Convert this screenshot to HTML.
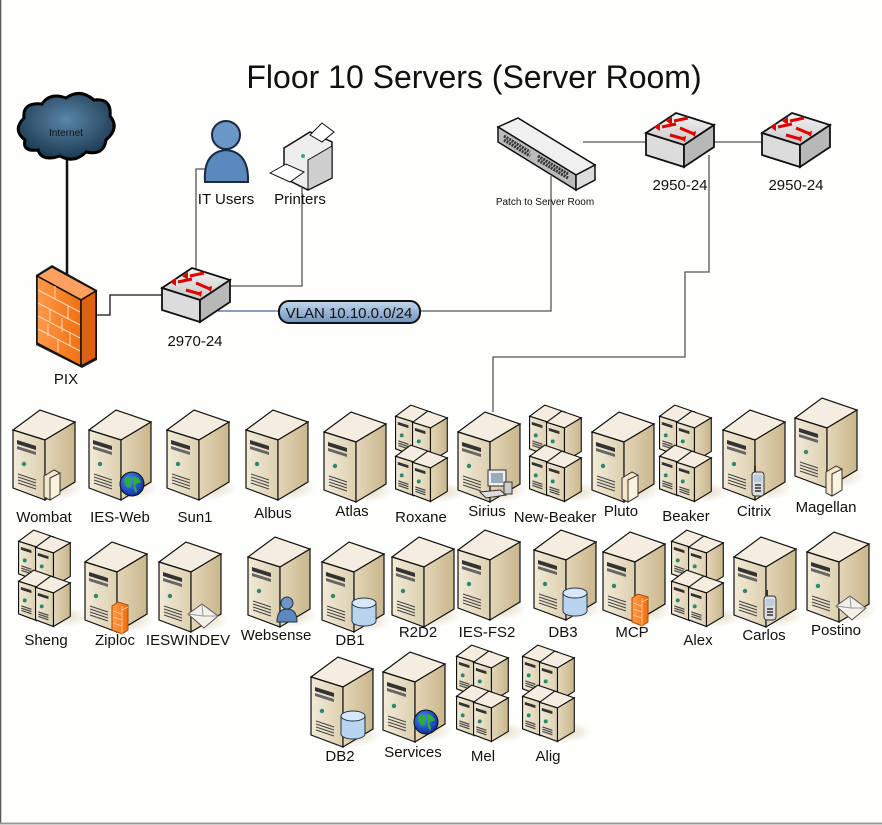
<!DOCTYPE html>
<html><head><meta charset="utf-8"><style>
html,body{margin:0;padding:0;background:#fff}
svg{display:block}
text{font-family:"Liberation Sans",Arial,sans-serif;fill:#111}
</style></head><body>
<svg width="882" height="825" viewBox="0 0 882 825" xmlns="http://www.w3.org/2000/svg">
<defs>
<linearGradient id="gside" x1="0" y1="0" x2="1" y2="0"><stop offset="0" stop-color="#e3d6b8"/><stop offset="1" stop-color="#c9b68c"/></linearGradient>
<linearGradient id="gfront" x1="0" y1="0" x2="1" y2="0"><stop offset="0" stop-color="#f2ead8"/><stop offset="1" stop-color="#ddd0b0"/></linearGradient>
<linearGradient id="gsw" x1="0" y1="0" x2="0" y2="1"><stop offset="0" stop-color="#f4f4f4"/><stop offset="1" stop-color="#c8c8c8"/></linearGradient>
<linearGradient id="gpill" x1="0" y1="0" x2="0" y2="1"><stop offset="0" stop-color="#c4d8ee"/><stop offset="1" stop-color="#6f93bd"/></linearGradient>
<linearGradient id="gfw" x1="0" y1="0" x2="1" y2="0"><stop offset="0" stop-color="#ff9a4a"/><stop offset="1" stop-color="#f07010"/></linearGradient>
<radialGradient id="gcloud" cx="0.5" cy="0.4" r="0.6"><stop offset="0" stop-color="#5a86a8"/><stop offset="1" stop-color="#1c3850"/></radialGradient>
<radialGradient id="gglobe" cx="0.4" cy="0.35" r="0.7"><stop offset="0" stop-color="#4a8cff"/><stop offset="1" stop-color="#0a2a9a"/></radialGradient>
<radialGradient id="gshadow" cx="0.5" cy="0.5" r="0.5"><stop offset="0" stop-color="#d8ccac" stop-opacity="0.8"/><stop offset="1" stop-color="#d8ccac" stop-opacity="0"/></radialGradient>

<g id="srv">
 <ellipse cx="44" cy="80" rx="26" ry="12" fill="url(#gshadow)"/>
 <polygon points="1,22 28,2 63,14 33,32" fill="#f5eee0" stroke="#111" stroke-width="1.2"/>
 <polygon points="1,22 33,32 33,92 1,80" fill="url(#gfront)" stroke="#111" stroke-width="1.2"/>
 <polygon points="33,32 63,14 63,74 33,92" fill="url(#gside)" stroke="#111" stroke-width="1.2"/>
 <polygon points="5,32 24,38 24,42 5,36" fill="#333"/>
 <polygon points="5,38 24,44 24,47 5,41" fill="#666"/>
 <circle cx="12" cy="56" r="2.2" fill="#2a8a6a"/>
 <path d="M6,66 L24,72 M6,69 L24,75 M6,72 L24,78 M6,75 L24,81" stroke="#444" stroke-width="1"/>
</g>
<g id="mini" transform="scale(0.56)">
 <polygon points="1,22 28,2 63,14 33,32" fill="#f5eee0" stroke="#111" stroke-width="2"/>
 <polygon points="1,22 33,32 33,92 1,80" fill="url(#gfront)" stroke="#111" stroke-width="2"/>
 <polygon points="33,32 63,14 63,74 33,92" fill="url(#gside)" stroke="#111" stroke-width="2"/>
 <polygon points="5,32 24,38 24,43 5,37" fill="#333"/>
 <circle cx="12" cy="56" r="3.5" fill="#2a8a6a"/>
 <path d="M6,66 L24,72 M6,70 L24,76 M6,74 L24,80" stroke="#444" stroke-width="2"/>
</g>
<g id="srv2">
 <ellipse cx="44" cy="88" rx="26" ry="10" fill="url(#gshadow)"/>
 <use href="#mini" x="0" y="0"/>
 <use href="#mini" x="17" y="6"/>
 <use href="#mini" x="0" y="40"/>
 <use href="#mini" x="17" y="46"/>
</g>
<g id="folder">
 <polygon points="0,6 10,0 16,3 16,24 6,30 0,27" fill="#f4e6c8" stroke="#333" stroke-width="1"/>
 <polygon points="6,8 16,3 16,24 6,30" fill="#fbf1dc" stroke="#333" stroke-width="1"/>
</g>
<g id="globe">
 <circle cx="12" cy="12" r="12" fill="url(#gglobe)" stroke="#111"/>
 <path d="M5,6 Q10,3 12,8 Q9,11 11,15 Q7,17 6,13 Q3,10 5,6Z M14,4 Q20,6 21,11 Q17,10 15,14 Q18,18 16,21 Q13,17 14,12 Q12,8 14,4Z" fill="#2fb02f"/>
</g>
<g id="cyl">
 <path d="M0,5 L0,23 A12,5 0 0 0 24,23 L24,5" fill="#b8d4ee" stroke="#234" stroke-width="1"/>
 <ellipse cx="12" cy="5" rx="12" ry="5" fill="#d8e8f8" stroke="#234" stroke-width="1"/>
</g>
<g id="fwb">
 <polygon points="0,4 6,0 16,3 16,28 10,32 0,28" fill="url(#gfw)" stroke="#b04a00" stroke-width="1"/>
 <path d="M1,9 L10,12 M1,15 L10,18 M1,21 L10,24 M10,8 L16,5 M10,32 L10,4" stroke="#ffd0a0" stroke-width="0.8"/>
</g>
<g id="env">
 <polygon points="0,10 14,0 30,12 16,24" fill="#f4f1ea" stroke="#555" stroke-width="1"/>
 <path d="M0,10 L15,12 L30,12 M14,0 L15,12" stroke="#999" fill="none"/>
</g>
<g id="phone">
 <rect x="0" y="6" width="12" height="24" rx="3" fill="#ddd" stroke="#333"/>
 <rect x="2" y="9" width="8" height="7" fill="#bcd"/>
 <path d="M3,19h6M3,22h6M3,25h6" stroke="#333" stroke-width="1.5"/>
 <line x1="3" y1="6" x2="3" y2="0" stroke="#333" stroke-width="2"/>
</g>
<g id="usr">
 <circle cx="10" cy="7" r="6" fill="#6a96c8" stroke="#234"/>
 <path d="M0,26 Q0,13 10,13 Q20,13 20,26Z" fill="#5b88bd" stroke="#234"/>
</g>
<g id="pc">
 <rect x="8" y="0" width="18" height="16" fill="#eee" stroke="#333"/>
 <rect x="11" y="3" width="12" height="10" fill="#9ab"/>
 <polygon points="0,22 20,20 26,25 6,28" fill="#ddd" stroke="#333"/>
 <rect x="24" y="12" width="8" height="12" fill="#ccc" stroke="#333"/>
</g>
<g id="sw">
 <polygon points="2,22 32,2 70,14 40,34" fill="url(#gsw)" stroke="#111" stroke-width="1.8"/>
 <polygon points="2,22 40,34 40,56 2,44" fill="#dcdcdc" stroke="#111" stroke-width="1.8"/>
 <polygon points="40,34 70,14 70,36 40,56" fill="#b8b8b8" stroke="#111" stroke-width="1.8"/>
 <path d="M30,10 L44,7 M18,16 L32,13 M36,17 L50,23 M26,24 L40,28" stroke="#e00000" stroke-width="3"/>
 <path d="M28,6 l-6,4 6,4z M16,12 l-6,4 6,4z M52,20 l-1,6 -5,-4z M42,25 l-1,6 -5,-4z" fill="#e00000"/>
</g>
</defs>

<rect x="0" y="0" width="882" height="825" fill="#fefefc"/>
<line x1="0.5" y1="0" x2="0.5" y2="823" stroke="#555" stroke-width="1.5"/>
<line x1="0" y1="823.5" x2="882" y2="823.5" stroke="#999" stroke-width="2"/>

<text x="474" y="88" font-size="32" text-anchor="middle">Floor 10 Servers (Server Room)</text>

<g fill="none" stroke="#555" stroke-width="1.3">
 <path d="M67,160 L67,275" stroke="#111" stroke-width="2.5"/>
 <path d="M97,315 L110,315 L110,295 L162,295" stroke="#111"/>
 <path d="M196,270 L196,169 L207,169"/>
 <path d="M230,286 L302,286 L302,188"/>
 <path d="M218,311 L280,311" stroke="#4a5fa8"/>
 <path d="M420,311 L551,311 L551,176"/>
 <path d="M583,142 L645,142"/>
 <path d="M712,142 L762,142"/>
 <path d="M709,155 L709,272 L685,272 L685,357 L493,357 L493,412"/>
</g>

<path d="M25,140 Q12,130 24,118 Q22,102 42,104 Q50,92 66,98 Q80,88 94,100 Q112,98 110,116 Q120,128 106,140 Q104,156 86,152 Q74,164 60,156 Q42,162 38,150 Q22,152 25,140Z" fill="url(#gcloud)" stroke="#000" stroke-width="3"/>
<text x="66" y="136" font-size="10" text-anchor="middle" fill="#111">Internet</text>

<polygon points="36,275 52,265 97,290 97,360 82,368 36,345" fill="#222"/>
<polygon points="37,276 52,267 96,291 81,300" fill="#ffa060" stroke="#111" stroke-width="1.5"/>
<polygon points="37,276 81,300 81,366 37,343" fill="url(#gfw)" stroke="#111" stroke-width="1.5"/>
<polygon points="81,300 96,291 96,358 81,366" fill="#e06010" stroke="#111" stroke-width="1.5"/>
<path d="M38,290 L80,312 M38,303 L80,325 M38,316 L80,338 M38,329 L80,351 M55,286 L55,298 M68,306 L68,319 M50,309 L50,321 M62,318 L62,332 M48,324 L48,336 M70,333 L70,346 M58,340 L58,352" stroke="#ffd8b8" stroke-width="1"/>
<text x="66" y="384" font-size="15" text-anchor="middle">PIX</text>

<use href="#sw" x="160" y="266"/>
<text x="195" y="346" font-size="15" text-anchor="middle">2970-24</text>

<circle cx="226" cy="135" r="14" fill="#6a96c8" stroke="#1a2a44" stroke-width="2"/>
<path d="M205,182 Q203,152 226,150 Q249,152 248,182Z" fill="#5b88bd" stroke="#1a2a44" stroke-width="2"/>
<text x="226" y="204" font-size="15" text-anchor="middle">IT Users</text>

<polygon points="284,148 310,132 332,142 332,178 308,190 284,178" fill="#eee" stroke="#111" stroke-width="1.5"/>
<polygon points="308,160 332,146 332,178 308,190" fill="#cfcfcf" stroke="#111"/>
<polygon points="310,135 322,123 334,132 322,142" fill="#fff" stroke="#111"/>
<polygon points="270,173 286,164 304,172 290,182" fill="#fff" stroke="#111"/>
<circle cx="303" cy="156" r="2" fill="#3a8"/>
<text x="300" y="204" font-size="15" text-anchor="middle">Printers</text>

<rect x="279" y="301" width="141" height="22" rx="10" fill="url(#gpill)" stroke="#111" stroke-width="2"/>
<text x="349" y="318" font-size="15" text-anchor="middle">VLAN 10.10.0.0/24</text>

<polygon points="498,127 518,118 595,165 576,175" fill="#f0f0f0" stroke="#111" stroke-width="1.5"/>
<polygon points="498,127 576,175 576,190 498,142" fill="#bbb" stroke="#111" stroke-width="1.5"/>
<polygon points="576,175 595,165 595,180 576,190" fill="#ddd" stroke="#111" stroke-width="1.5"/>
<path d="M504,136 L530,152 M504,140 L530,156 M538,156 L568,174 M538,160 L568,178" stroke="#333" stroke-width="3" stroke-dasharray="2,1"/>
<text x="545" y="205" font-size="10" text-anchor="middle">Patch to Server Room</text>

<use href="#sw" x="644" y="111"/>
<text x="680" y="190" font-size="15" text-anchor="middle">2950-24</text>
<use href="#sw" x="760" y="111"/>
<text x="796" y="190" font-size="15" text-anchor="middle">2950-24</text>

<use href="#srv" x="12" y="408"/><use href="#folder" x="44" y="470"/>
<text x="44" y="522" font-size="15" text-anchor="middle">Wombat</text>
<use href="#srv" x="88" y="408"/><use href="#globe" x="120" y="472"/>
<text x="120" y="522" font-size="15" text-anchor="middle">IES-Web</text>
<use href="#srv" x="166" y="408"/>
<text x="195" y="522" font-size="15" text-anchor="middle">Sun1</text>
<use href="#srv" x="245" y="408"/>
<text x="273" y="518" font-size="15" text-anchor="middle">Albus</text>
<use href="#srv" x="323" y="410"/>
<text x="352" y="516" font-size="15" text-anchor="middle">Atlas</text>
<use href="#srv2" x="395" y="404"/>
<text x="421" y="522" font-size="15" text-anchor="middle">Roxane</text>
<use href="#srv" x="457" y="410"/><use href="#pc" x="480" y="470"/>
<text x="487" y="516" font-size="15" text-anchor="middle">Sirius</text>
<use href="#srv2" x="529" y="404"/>
<text x="555" y="522" font-size="15" text-anchor="middle">New-Beaker</text>
<use href="#srv" x="591" y="410"/><use href="#folder" x="622" y="472"/>
<text x="621" y="516" font-size="15" text-anchor="middle">Pluto</text>
<use href="#srv2" x="659" y="404"/>
<text x="686" y="521" font-size="15" text-anchor="middle">Beaker</text>
<use href="#srv" x="722" y="408"/><use href="#phone" x="752" y="466"/>
<text x="754" y="516" font-size="15" text-anchor="middle">Citrix</text>
<use href="#srv" x="794" y="396"/><use href="#folder" x="826" y="466"/>
<text x="826" y="512" font-size="15" text-anchor="middle">Magellan</text>

<use href="#srv2" x="18" y="529"/>
<text x="46" y="645" font-size="15" text-anchor="middle">Sheng</text>
<use href="#srv" x="84" y="540"/><use href="#fwb" x="112" y="602"/>
<text x="115" y="645" font-size="15" text-anchor="middle">Ziploc</text>
<use href="#srv" x="158" y="540"/><use href="#env" x="188" y="604"/>
<text x="188" y="645" font-size="15" text-anchor="middle">IESWINDEV</text>
<use href="#srv" x="247" y="535"/><use href="#usr" x="277" y="596"/>
<text x="276" y="640" font-size="15" text-anchor="middle">Websense</text>
<use href="#srv" x="321" y="540"/><use href="#cyl" x="352" y="598"/>
<text x="350" y="645" font-size="15" text-anchor="middle">DB1</text>
<use href="#srv" x="391" y="535"/>
<text x="418" y="637" font-size="15" text-anchor="middle">R2D2</text>
<use href="#srv" x="457" y="528"/>
<text x="487" y="637" font-size="15" text-anchor="middle">IES-FS2</text>
<use href="#srv" x="533" y="528"/><use href="#cyl" x="563" y="588"/>
<text x="563" y="637" font-size="15" text-anchor="middle">DB3</text>
<use href="#srv" x="602" y="530"/><use href="#fwb" x="632" y="594"/>
<text x="632" y="637" font-size="15" text-anchor="middle">MCP</text>
<use href="#srv2" x="671" y="529"/>
<text x="698" y="645" font-size="15" text-anchor="middle">Alex</text>
<use href="#srv" x="733" y="535"/><use href="#phone" x="764" y="590"/>
<text x="764" y="640" font-size="15" text-anchor="middle">Carlos</text>
<use href="#srv" x="806" y="530"/><use href="#env" x="836" y="596"/>
<text x="836" y="635" font-size="15" text-anchor="middle">Postino</text>

<use href="#srv" x="310" y="655"/><use href="#cyl" x="341" y="711"/>
<text x="340" y="761" font-size="15" text-anchor="middle">DB2</text>
<use href="#srv" x="382" y="650"/><use href="#globe" x="414" y="710"/>
<text x="413" y="757" font-size="15" text-anchor="middle">Services</text>
<use href="#srv2" x="456" y="644"/>
<text x="483" y="761" font-size="15" text-anchor="middle">Mel</text>
<use href="#srv2" x="522" y="644"/>
<text x="548" y="761" font-size="15" text-anchor="middle">Alig</text>
</svg>
</body></html>
